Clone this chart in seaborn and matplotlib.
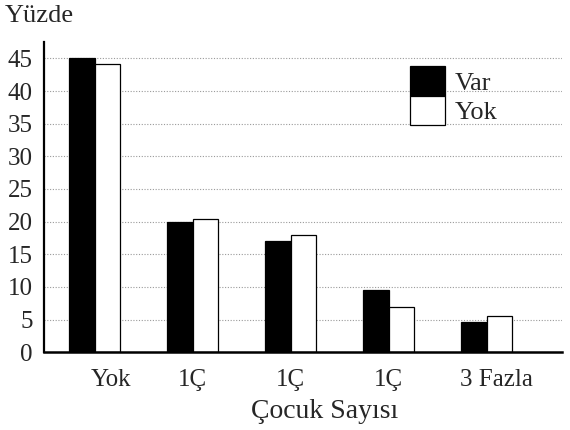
import matplotlib
matplotlib.use("Agg")
import matplotlib.pyplot as plt
import matplotlib.transforms as mtransforms
import pandas as pd
import seaborn as sns

# Values (percent)
categories = ["Yok", "1Ç", "1Ç", "1Ç", "3 Fazla"]
var_values = [45.0, 19.9, 17.1, 9.6, 4.6]
yok_values = [44.2, 20.4, 17.9, 6.9, 5.5]
series_names = ["Var", "Yok"]
y_ticks = [0, 5, 10, 15, 20, 25, 30, 35, 40, 45]

# categories repeat ("1Ç" three times), so group by position
keys = [f"g{i}" for i in range(len(categories))]
df = pd.DataFrame({
    "grup": keys * 2,
    "seri": [series_names[0]] * len(keys) + [series_names[1]] * len(keys),
    "yuzde": var_values + yok_values,
})

sns.set_style("white")
plt.rcParams["font.family"] = ["Liberation Serif", "DejaVu Serif"]

fig = plt.figure(figsize=(5.7, 4.3), dpi=100)
ax = fig.add_axes([0.077, 0.181, 0.909, 0.721])

sns.barplot(
    data=df, x="grup", y="yuzde", hue="seri", order=keys,
    hue_order=series_names, palette={"Var": "black", "Yok": "white"},
    width=0.52, edgecolor="black", linewidth=0.9, gap=0,
    errorbar=None, ax=ax,
)

ax.set_xlim(-0.52, 4.77)
ax.set_ylim(0, 47.5)
ax.set_yticks(y_ticks)
ax.yaxis.grid(True, linestyle=(0, (1, 1.5)), color="#9a9a9a", linewidth=0.8)
ax.set_axisbelow(True)
ax.set_xticks(range(len(categories)))
ax.set_xticklabels(categories, fontsize=18)
ax.tick_params(axis="y", labelsize=18, length=0, pad=8)
ax.tick_params(axis="x", length=0, pad=12)

# the scan has the first and last labels sitting a bit right of centre
shifts = [16, 0, 0, 0, 10]
for lbl, dx in zip(ax.get_xticklabels(), shifts):
    lbl.set_transform(lbl.get_transform() +
                      mtransforms.ScaledTranslation(dx / 100, 0, fig.dpi_scale_trans))

for side in ["top", "right"]:
    ax.spines[side].set_visible(False)
ax.spines["left"].set_linewidth(1.6)
ax.spines["bottom"].set_linewidth(1.8)
ax.spines["left"].set_color("black")
ax.spines["bottom"].set_color("black")

ax.set_xlabel("")
ax.set_ylabel("")
fig.text(0.008, 0.962, "Yüzde", fontsize=19, ha="left", va="center")
fig.text(0.57, 0.042, "Çocuk Sayısı", fontsize=20, ha="center", va="center")

handles, labels = ax.get_legend_handles_labels()
ax.legend(handles, labels, loc="upper left", bbox_to_anchor=(0.66, 1.0),
          frameon=False, fontsize=19, handlelength=1.35, handleheight=1.35,
          labelspacing=0.0, handletextpad=0.35)

fig.savefig("out.png", dpi=100)
